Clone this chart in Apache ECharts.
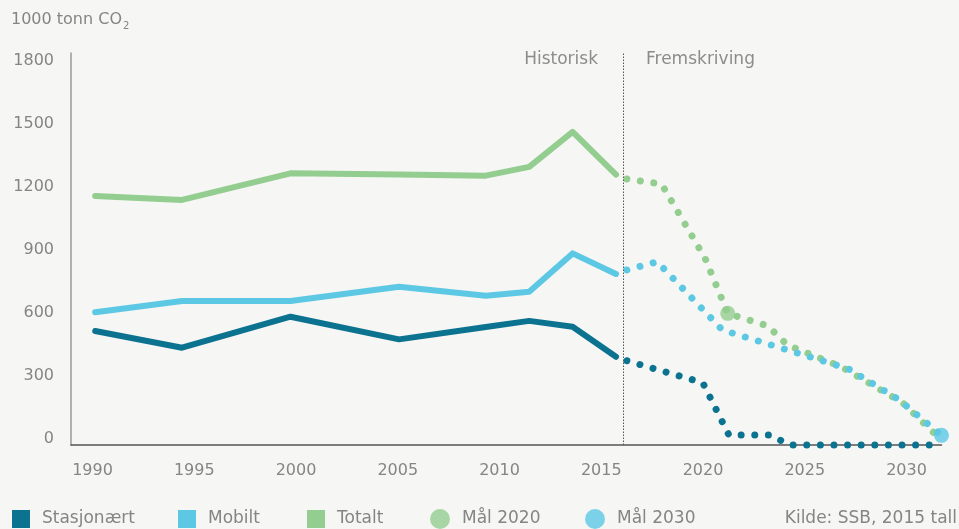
<!DOCTYPE html>
<html>
<head>
<meta charset="utf-8">
<script src="https://cdn.jsdelivr.net/npm/echarts@6/dist/echarts.min.js"></script>
<style>
html,body{margin:0;padding:0;background:#f6f6f4;}
#c{width:959px;height:529px;}
</style>
</head>
<body>
<div id="c"></div>
<script>
const FONT = 'DejaVu Sans';

// Historical data (1000 tonn CO2)
const histYears        = [1991, 1995, 2000, 2005, 2009, 2011, 2013, 2015];
const histStasjonaert  = [544, 464, 612, 504, 563, 592, 564, 421];
const histMobilt       = [633, 687, 687, 755, 712, 731, 914, 816];
const histTotalt       = [1188, 1169, 1296, 1290, 1285, 1327, 1494, 1290];

// Projections (fremskriving)
const projStasjonaertYears = [2015.5, 2019.0, 2020.2, 2022.1, 2023.0, 2029.7];
const projStasjonaert      = [402, 297, 48, 48, 0, 0];
const projMobiltYears      = [2015.5, 2016.9, 2019.9, 2025.7, 2028.0, 2030.0];
const projMobilt           = [835, 874, 549, 364, 219, 46];
const projTotaltYears      = [2015.5, 2017.1, 2019.1, 2020.15, 2022.0, 2022.9, 2025.4, 2028.2, 2029.8];
const projTotalt           = [1269, 1245, 892, 628, 568, 477, 372, 202, 43];

// Targets
const maal2020 = [2020.15, 628];
const maal2030 = [2030.0, 46];

// Divider between historical and projected
const dividerYear = 2015.34;

// Tick labels
const xTickLabels = [1990, 1995, 2000, 2005, 2010, 2015, 2020, 2025, 2030];
const yTickLabels = [0, 300, 600, 900, 1200, 1500, 1800];

const C_STAS = '#0b7390';
const C_MOB  = '#5dc8e4';
const C_TOT  = '#93cd8f';
const TXT    = '#858585';

function pairs(xs, ys) { return xs.map((x, i) => [x, ys[i]]); }
const solid  = color => ({ color: color, width: 6, cap: 'round', join: 'round' });
const dotted = color => ({ color: color, width: 7, type: [0.01, 13.6], cap: 'round', join: 'round' });

function lineSeries(name, data, style, extra) {
  return Object.assign({
    type: 'line', name: name, xAxisIndex: 0, yAxisIndex: 0,
    data: data, symbol: 'none', showSymbol: false, clip: false,
    lineStyle: style, itemStyle: { color: style.color }, silent: true
  }, extra || {});
}

function legendItem(name, icon, left, size) {
  return {
    data: [{ name: name, icon: icon }],
    left: left, top: size === 18 ? 510 : 509, padding: 0,
    itemWidth: size, itemHeight: size, selectedMode: false,
    itemStyle: { borderWidth: 0 },
    textStyle: { color: TXT, fontSize: 17, fontFamily: FONT, padding: [0, 0, 0, 7] }
  };
}

const chart = echarts.init(document.getElementById('c'));
chart.setOption({
  backgroundColor: '#f6f6f4',
  animation: false,
  textStyle: { fontFamily: FONT },
  title: {
    text: '1000 tonn CO{sub|2}',
    left: 11, top: 8, padding: 0,
    textStyle: {
      color: TXT, fontSize: 16, fontWeight: 'normal', fontFamily: FONT,
      rich: { sub: { fontSize: 10, color: TXT, fontFamily: FONT, padding: [13, 0, 0, 1] } }
    }
  },
  grid: { left: 71, right: 17.5, top: 53, bottom: 84 },
  xAxis: [
    { type: 'value', min: 1989.885, max: 2030, show: false },
    {
      type: 'value', min: 1988.943, max: 2031.72, position: 'bottom',
      axisLine: { show: true, onZero: false, lineStyle: { color: '#555', width: 1.5 } },
      axisTick: { show: false }, splitLine: { show: false },
      axisLabel: { customValues: xTickLabels, formatter: v => String(v), color: TXT, fontSize: 16, margin: 18, fontFamily: FONT }
    }
  ],
  yAxis: {
    type: 'value', min: 0, max: 1870,
    axisLine: { show: true, onZero: false, lineStyle: { color: '#9a9a9a', width: 1.5 } },
    axisTick: { show: false }, splitLine: { show: false },
    axisLabel: { customValues: yTickLabels, formatter: v => String(v), color: TXT, fontSize: 16, margin: 17, verticalAlign: 'bottom', lineHeight: 13, fontFamily: FONT }
  },
  legend: [
    legendItem('Stasjonært', 'rect', 12, 18),
    legendItem('Mobilt', 'rect', 178, 18),
    legendItem('Totalt', 'rect', 307, 18),
    legendItem('Mål 2020', 'circle', 430, 20),
    legendItem('Mål 2030', 'circle', 585, 20)
  ],
  graphic: [
    { type: 'text', x: 598, y: 60, silent: true,
      style: { text: 'Historisk', fill: '#8c8c8c', font: '17px "' + FONT + '"', align: 'right', verticalAlign: 'middle' } },
    { type: 'text', x: 646, y: 60, silent: true,
      style: { text: 'Fremskriving', fill: '#8c8c8c', font: '17px "' + FONT + '"', align: 'left', verticalAlign: 'middle' } },
    { type: 'text', x: 957, y: 519, silent: true,
      style: { text: 'Kilde: SSB, 2015 tall', fill: TXT, font: '17px "' + FONT + '"', align: 'right', verticalAlign: 'middle' } }
  ],
  series: [
    lineSeries('Totalt', pairs(histYears, histTotalt), solid(C_TOT)),
    lineSeries('Mobilt', pairs(histYears, histMobilt), solid(C_MOB)),
    lineSeries('Stasjonært', pairs(histYears, histStasjonaert), solid(C_STAS), {
      markLine: {
        silent: true, symbol: 'none', label: { show: false },
        lineStyle: { color: '#555', type: [1.5, 1.5], width: 1 },
        data: [{ xAxis: dividerYear }]
      }
    }),
    lineSeries('Stasjonært', pairs(projStasjonaertYears, projStasjonaert), dotted(C_STAS)),
    lineSeries('Totalt', pairs(projTotaltYears, projTotalt), dotted(C_TOT)),
    lineSeries('Mobilt', pairs(projMobiltYears, projMobilt), dotted(C_MOB)),
    { type: 'scatter', name: 'Mål 2020', xAxisIndex: 0, data: [maal2020], symbol: 'circle', symbolSize: 15, itemStyle: { color: C_TOT }, silent: true, clip: false, z: 3 },
    { type: 'scatter', name: 'Mål 2030', xAxisIndex: 0, data: [maal2030], symbol: 'circle', symbolSize: 15, itemStyle: { color: C_MOB }, silent: true, clip: false, z: 3 }
  ]
});
</script>
</body>
</html>
